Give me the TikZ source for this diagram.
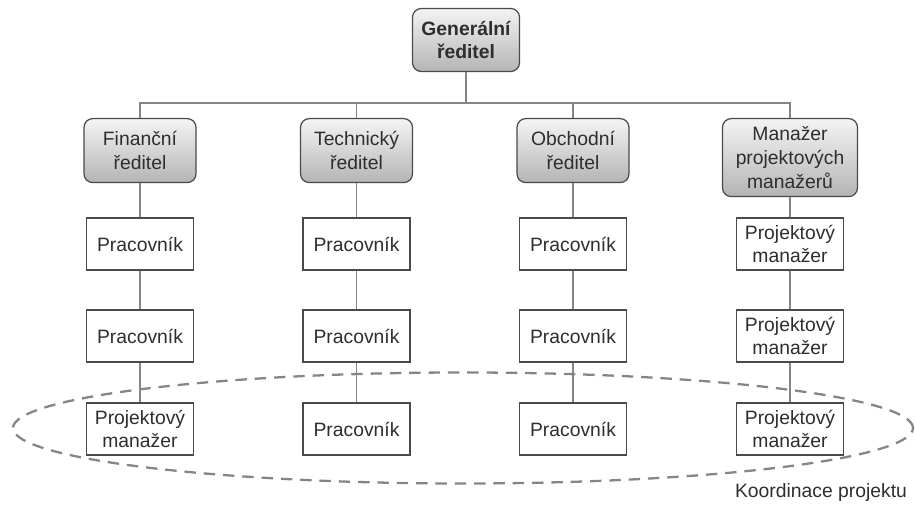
\documentclass[tikz,border=0pt]{standalone}
\usepackage{fontspec}
\setsansfont{Liberation Sans}
\usepackage{xcolor}
\usepackage{tikz}
\usetikzlibrary{positioning, calc}
\definecolor{olinegray}{HTML}{858585}
\definecolor{oboxgray}{HTML}{4A4A4A}
\definecolor{otextgray}{HTML}{2E2E2E}
\definecolor{oshadetop}{HTML}{F4F4F4}
\definecolor{oshadebot}{HTML}{B4B4B4}
\tikzset{
  headbox/.style={draw=oboxgray, top color=oshadetop, bottom color=oshadebot,
                  rounded corners=5pt, minimum width=2.24cm, minimum height=1.28cm,
                  align=center, text=otextgray, line width=0.7pt, inner sep=1pt,
                  font=\fontsize{11}{13.5}\selectfont\sffamily},
  staffbox/.style={draw=oboxgray, fill=white, minimum width=2.14cm, minimum height=1.04cm,
                   align=center, text=otextgray, line width=0.6pt, inner sep=1pt,
                   font=\fontsize{11}{13.5}\selectfont\sffamily},
  conn/.style={olinegray, line width=0.8pt},
  coordring/.style={olinegray, line width=1.3pt, dash pattern=on 6.5pt off 4.5pt},
}

\begin{document}
\begin{tikzpicture}[x=1cm, y=1cm]
  \useasboundingbox (0,0) rectangle (18.3,10.14);

  % project coordination ring
  \draw[coordring] (9.26,1.58) ellipse (9.0 and 1.11);

  \node[headbox, font=\fontsize{11}{13.5}\selectfont\sffamily\bfseries, minimum width=2.14cm,
        minimum height=1.26cm] (gen) at (9.32,9.34) {Generální\\ředitel};
  \coordinate (bus) at (9.32,8.08);

  \node[headbox, anchor=north] (fin) at (2.8,7.78) {Finanční\\ředitel};
  \node[headbox, anchor=north] (tech) at (7.13,7.78) {Technický\\ředitel};
  \node[headbox, anchor=north] (obch) at (11.46,7.78) {Obchodní\\ředitel};
  \node[headbox, anchor=north, minimum width=2.7cm, minimum height=1.56cm]
    (pm) at (15.8,7.78) {Manažer\\projektových\\manažerů};

  \node[staffbox] (fin1) at (2.8,5.26) {Pracovník};
  \node[staffbox] (fin2) at (2.8,3.42) {Pracovník};
  \node[staffbox] (fin3) at (2.8,1.56) {Projektový\\manažer};

  \node[staffbox] (tech1) at (7.13,5.26) {Pracovník};
  \node[staffbox] (tech2) at (7.13,3.42) {Pracovník};
  \node[staffbox] (tech3) at (7.13,1.56) {Pracovník};

  \node[staffbox] (obch1) at (11.46,5.26) {Pracovník};
  \node[staffbox] (obch2) at (11.46,3.42) {Pracovník};
  \node[staffbox] (obch3) at (11.46,1.56) {Pracovník};

  \node[staffbox] (pm1) at (15.8,5.26) {Projektový\\manažer};
  \node[staffbox] (pm2) at (15.8,3.42) {Projektový\\manažer};
  \node[staffbox] (pm3) at (15.8,1.56) {Projektový\\manažer};

  \draw[conn] (gen) -- (bus);
  \draw[conn] (bus) -| (fin.north);
  \draw[conn] (bus) -| (tech.north);
  \draw[conn] (bus) -| (obch.north);
  \draw[conn] (bus) -| (pm.north);

  \draw[conn] (fin) -- (fin1) -- (fin2) -- (fin3);
  \draw[conn] (tech) -- (tech1) -- (tech2) -- (tech3);
  \draw[conn] (obch) -- (obch1) -- (obch2) -- (obch3);
  \draw[conn] (pm) -- (pm1) -- (pm2) -- (pm3);

  \node[font=\fontsize{11}{13.5}\selectfont\sffamily, text=otextgray] (coordlbl)
    at (16.42,0.28) {Koordinace projektu};

\end{tikzpicture}
\end{document}
